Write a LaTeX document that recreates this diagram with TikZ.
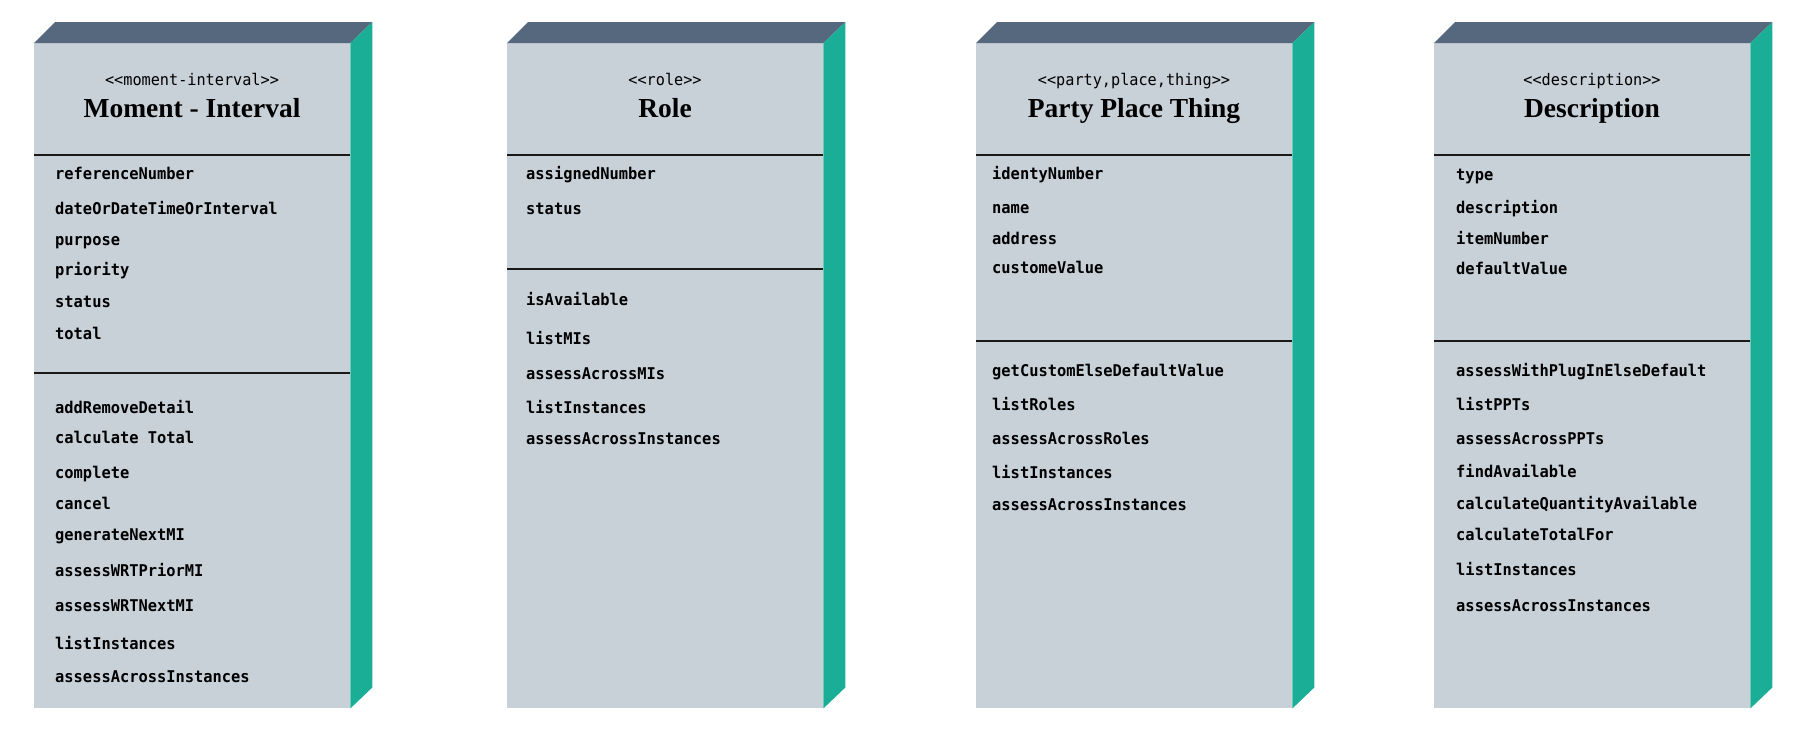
\documentclass[tikz,border=0pt]{standalone}
\usepackage{fontspec}
\usepackage{tikz}
\usetikzlibrary{positioning, calc}

\newfontfamily\monofont{DejaVu Sans Mono}[FakeStretch=0.95]
\newfontfamily\serifbold{Liberation Serif}

\definecolor{frontgray}{RGB}{200,208,216}
\definecolor{topslate}{RGB}{86,104,125}
\definecolor{sideteal}{RGB}{27,174,151}

\begin{document}
\begin{tikzpicture}[
    x=1pt, y=-1pt,
    front/.style={fill=frontgray, draw=none, minimum width=316pt, minimum height=665pt, inner sep=0pt, anchor=north west},
    topface/.style={fill=topslate},
    sideface/.style={fill=sideteal},
    sep/.style={line width=1.6pt, black!90},
    stereo/.style={anchor=base, inner sep=0pt, font=\monofont\fontsize{16}{18}\selectfont},
    classname/.style={anchor=base, inner sep=0pt, font=\serifbold\bfseries\fontsize{27.5}{30}\selectfont},
    member/.style={anchor=base west, inner sep=0pt, font=\monofont\bfseries\fontsize{16.2}{18}\selectfont}
]
   \useasboundingbox (0,0) rectangle (1798,729);

   % Class boxes (front faces)
   \node[front] (mi)  at (34,43)   {};
   \node[front] (rl)  at (507,43)  {};
   \node[front] (ppt) at (976,43)  {};
   \node[front] (ds)  at (1434,43) {};

   % Top and side faces
   \foreach \b in {mi, rl, ppt, ds} {
     \fill[topface] (\b.north west) -- ++(21,-21) -- ($(\b.north east)+(22,-21)$) -- (\b.north east) -- cycle;
     \fill[sideface] (\b.north east) -- ++(22,-21) -- ($(\b.south east)+(22,-21)$) -- (\b.south east) -- cycle;
   }

   % Compartment lines
   \draw[sep] (mi.west |- 0,155) -- (mi.east |- 0,155);
   \draw[sep] (mi.west |- 0,373) -- (mi.east |- 0,373);
   \draw[sep] (rl.west |- 0,155) -- (rl.east |- 0,155);
   \draw[sep] (rl.west |- 0,269) -- (rl.east |- 0,269);
   \draw[sep] (ppt.west |- 0,155) -- (ppt.east |- 0,155);
   \draw[sep] (ppt.west |- 0,341) -- (ppt.east |- 0,341);
   \draw[sep] (ds.west |- 0,155) -- (ds.east |- 0,155);
   \draw[sep] (ds.west |- 0,341) -- (ds.east |- 0,341);

   % Moment - Interval
   \node[stereo] (mi-st) at (192,85) {\textless\textless moment-interval\textgreater\textgreater};
   \node[classname] (mi-name) at (192,117) {Moment - Interval};
   \node[member] (mi-a1) at (55,179) {referenceNumber};
   \node[member] (mi-a2) at (55,214) {dateOrDateTimeOrInterval};
   \node[member] (mi-a3) at (55,245) {purpose};
   \node[member] (mi-a4) at (55,275) {priority};
   \node[member] (mi-a5) at (55,307) {status};
   \node[member] (mi-a6) at (55,339) {total};
   \node[member] (mi-o1) at (55,413) {addRemoveDetail};
   \node[member] (mi-o2) at (55,443) {calculate Total};
   \node[member] (mi-o3) at (55,478) {complete};
   \node[member] (mi-o4) at (55,509) {cancel};
   \node[member] (mi-o5) at (55,540) {generateNextMI};
   \node[member] (mi-o6) at (55,576) {assessWRTPriorMI};
   \node[member] (mi-o7) at (55,611) {assessWRTNextMI};
   \node[member] (mi-o8) at (55,649) {listInstances};
   \node[member] (mi-o9) at (55,682) {assessAcrossInstances};

   % Role
   \node[stereo] (rl-st) at (665,85) {\textless\textless role\textgreater\textgreater};
   \node[classname] (rl-name) at (665,117) {Role};
   \node[member] (rl-a1) at (526,179) {assignedNumber};
   \node[member] (rl-a2) at (526,214) {status};
   \node[member] (rl-o1) at (526,305) {isAvailable};
   \node[member] (rl-o2) at (526,344) {listMIs};
   \node[member] (rl-o3) at (526,379) {assessAcrossMIs};
   \node[member] (rl-o4) at (526,413) {listInstances};
   \node[member] (rl-o5) at (526,444) {assessAcrossInstances};

   % Party Place Thing
   \node[stereo] (ppt-st) at (1134,85) {\textless\textless party,place,thing\textgreater\textgreater};
   \node[classname] (ppt-name) at (1134,117) {Party Place Thing};
   \node[member] (ppt-a1) at (992,179) {identyNumber};
   \node[member] (ppt-a2) at (992,213) {name};
   \node[member] (ppt-a3) at (992,244) {address};
   \node[member] (ppt-a4) at (992,273) {customeValue};
   \node[member] (ppt-o1) at (992,376) {getCustomElseDefaultValue};
   \node[member] (ppt-o2) at (992,410) {listRoles};
   \node[member] (ppt-o3) at (992,444) {assessAcrossRoles};
   \node[member] (ppt-o4) at (992,478) {listInstances};
   \node[member] (ppt-o5) at (992,510) {assessAcrossInstances};

   % Description
   \node[stereo] (ds-st) at (1592,85) {\textless\textless description\textgreater\textgreater};
   \node[classname] (ds-name) at (1592,117) {Description};
   \node[member] (ds-a1) at (1456,180) {type};
   \node[member] (ds-a2) at (1456,213) {description};
   \node[member] (ds-a3) at (1456,244) {itemNumber};
   \node[member] (ds-a4) at (1456,274) {defaultValue};
   \node[member] (ds-o1) at (1456,376) {assessWithPlugInElseDefault};
   \node[member] (ds-o2) at (1456,410) {listPPTs};
   \node[member] (ds-o3) at (1456,444) {assessAcrossPPTs};
   \node[member] (ds-o4) at (1456,477) {findAvailable};
   \node[member] (ds-o5) at (1456,509) {calculateQuantityAvailable};
   \node[member] (ds-o6) at (1456,540) {calculateTotalFor};
   \node[member] (ds-o7) at (1456,575) {listInstances};
   \node[member] (ds-o8) at (1456,611) {assessAcrossInstances};
\end{tikzpicture}
\end{document}
